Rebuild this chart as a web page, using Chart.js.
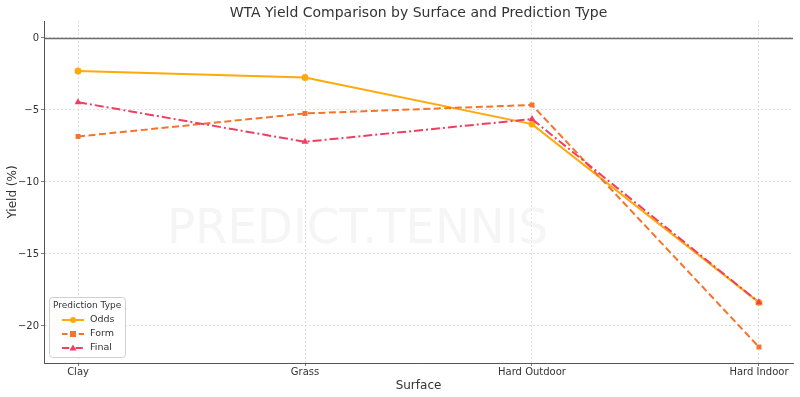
<!DOCTYPE html>
<html>
<head>
<meta charset="utf-8">
<script src="https://cdn.jsdelivr.net/npm/chart.js@4/dist/chart.umd.min.js"></script>
<style>
html,body{margin:0;padding:0;background:#fff;}
#wrap{width:800px;height:397px;position:relative;}
</style>
</head>
<body>
<div id="wrap"><canvas id="c" width="800" height="397"></canvas></div>
<script>
const categories = ["Clay", "Grass", "Hard Outdoor", "Hard Indoor"];
const oddsValues = [-2.29, -2.74, -5.98, -18.36];
const formValues = [-6.84, -5.24, -4.65, -21.46];
const finalValues = [-4.46, -7.21, -5.63, -18.36];
const yTicks = [-20, -15, -10, -5, 0];
const seriesNames = ["Odds", "Form", "Final"];
const chartTitle = "WTA Yield Comparison by Surface and Prediction Type";
const watermark = "PREDICT.TENNIS";

const FONT = "'DejaVu Sans', sans-serif";
const colors = ["#FFA90A", "#F5732B", "#F03E62"];
const dashes = [[], [7, 3.5], [9, 3, 2, 3]];
const shapes = ["circle", "rect", "triangle"];

function pts(vals){ return vals.map((v,i)=>({x:i, y:v})); }

const datasets = [oddsValues, formValues, finalValues].map((vals, k) => ({
  label: seriesNames[k],
  data: pts(vals),
  order: 3 - k,
  borderColor: colors[k],
  backgroundColor: colors[k],
  borderWidth: 2,
  borderDash: dashes[k],
  pointStyle: shapes[k],
  pointRadius: k === 2 ? 4 : 3.5,
  pointBorderWidth: 0,
  tension: 0
}));

const decor = {
  id: 'decor',
  beforeDatasetsDraw(chart){
    const ctx = chart.ctx, a = chart.chartArea, y = chart.scales.y;
    ctx.save();
    ctx.font = "48px " + FONT;
    const w = ctx.measureText(watermark).width;
    ctx.translate(167, 243);
    ctx.scale(381 / w, 1);
    ctx.fillStyle = "rgba(238,238,238,0.6)";
    ctx.textBaseline = "alphabetic";
    ctx.fillText(watermark, 0, 0);
    ctx.restore();
    ctx.save();
    const y0 = Math.round(y.getPixelForValue(0)) + 0.5;
    ctx.strokeStyle = "#6e6e6e";
    ctx.lineWidth = 1.3;
    ctx.beginPath(); ctx.moveTo(a.left, y0); ctx.lineTo(a.right, y0); ctx.stroke();
    ctx.restore();
  },
  afterDraw(chart){
    const ctx = chart.ctx, a = chart.chartArea;
    ctx.save();
    ctx.fillStyle = "#333";
    ctx.font = "14px " + FONT;
    ctx.textAlign = "center";
    ctx.textBaseline = "middle";
    ctx.fillText(chartTitle, (a.left + a.right)/2, 13);
    const bx = 49.5, by = 297.5, bw = 76, bh = 60, r = 3;
    ctx.beginPath();
    ctx.moveTo(bx + r, by);
    ctx.arcTo(bx + bw, by, bx + bw, by + bh, r);
    ctx.arcTo(bx + bw, by + bh, bx, by + bh, r);
    ctx.arcTo(bx, by + bh, bx, by, r);
    ctx.arcTo(bx, by, bx + bw, by, r);
    ctx.closePath();
    ctx.fillStyle = "rgba(255,255,255,0.85)";
    ctx.fill();
    ctx.strokeStyle = "#d0d0d0";
    ctx.lineWidth = 1;
    ctx.stroke();
    ctx.fillStyle = "#333";
    ctx.font = "9px " + FONT;
    ctx.textAlign = "left";
    ctx.fillText("Prediction Type", 53, 306);
    const rows = [320, 334, 348];
    for (let k = 0; k < 3; k++) {
      const yy = rows[k];
      ctx.strokeStyle = colors[k];
      ctx.lineWidth = 2;
      ctx.setLineDash(dashes[k].map(d => d * 0.8));
      ctx.beginPath(); ctx.moveTo(62, yy); ctx.lineTo(84, yy); ctx.stroke();
      ctx.setLineDash([]);
      ctx.fillStyle = colors[k];
      const cx = 73;
      if (shapes[k] === "circle") { ctx.beginPath(); ctx.arc(cx, yy, 3, 0, Math.PI*2); ctx.fill(); }
      else if (shapes[k] === "rect") { ctx.fillRect(cx - 3, yy - 3, 6, 6); }
      else { ctx.beginPath(); ctx.moveTo(cx, yy - 3.5); ctx.lineTo(cx + 3.5, yy + 2.5); ctx.lineTo(cx - 3.5, yy + 2.5); ctx.closePath(); ctx.fill(); }
      ctx.fillStyle = "#333";
      ctx.font = "9.5px " + FONT;
      ctx.fillText(seriesNames[k], 90, yy);
    }
    ctx.restore();
  }
};

const gridOpts = { color: "#d8d8d8", lineWidth: 0.8, tickLength: 3, tickColor: "#555", tickBorderDash: [], drawTicks: true };
const borderOpts = { display: true, color: "#555", width: 1, dash: [2, 2] };

new Chart(document.getElementById('c'), {
  type: 'line',
  data: { datasets },
  options: {
    responsive: false,
    animation: false,
    devicePixelRatio: 1,
    layout: { padding: { top: 21, right: 7, left: 0, bottom: 4 } },
    plugins: { legend: { display: false }, title: { display: false }, tooltip: { enabled: false } },
    scales: {
      x: {
        type: 'linear',
        min: -0.15, max: 3.15,
        afterBuildTicks(s){ s.ticks = categories.map((c,i)=>({value:i})); },
        afterFit(s){ s.height = 30; },
        ticks: {
          autoSkip: false, maxRotation: 0, padding: 0,
          color: "#333", font: { family: FONT, size: 10 },
          callback: (v) => categories[v] ?? ""
        },
        grid: gridOpts,
        border: borderOpts,
        title: { display: true, text: "Surface", color: "#333", font: { family: FONT, size: 12 }, padding: { top: 0, bottom: 0 } }
      },
      y: {
        type: 'linear',
        min: -22.57, max: 1.18,
        afterBuildTicks(s){ s.ticks = yTicks.map(v=>({value:v})); },
        afterFit(s){ s.width = 44; },
        ticks: {
          padding: 2, color: "#333", font: { family: FONT, size: 10 },
          callback: (v) => (v < 0 ? "\u2212" + Math.abs(v) : String(v))
        },
        grid: gridOpts,
        border: borderOpts,
        title: { display: true, text: "Yield (%)", color: "#333", font: { family: FONT, size: 12 }, padding: { top: 6, bottom: 0 } }
      }
    }
  },
  plugins: [decor]
});
</script>
</body>
</html>
